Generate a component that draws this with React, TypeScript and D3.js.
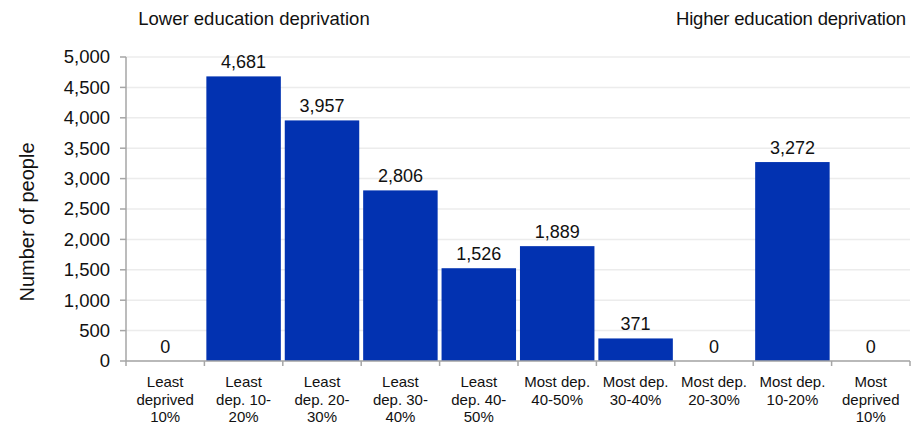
import React from "react";
import * as d3 from "d3";

const categories: string[][] = [
  ["Least", "deprived", "10%"],
  ["Least", "dep. 10-", "20%"],
  ["Least", "dep. 20-", "30%"],
  ["Least", "dep. 30-", "40%"],
  ["Least", "dep. 40-", "50%"],
  ["Most dep.", "40-50%"],
  ["Most dep.", "30-40%"],
  ["Most dep.", "20-30%"],
  ["Most dep.", "10-20%"],
  ["Most", "deprived", "10%"],
];
const values: number[] = [0, 4681, 3957, 2806, 1526, 1889, 371, 0, 3272, 0];
const yTicks: number[] = [0, 500, 1000, 1500, 2000, 2500, 3000, 3500, 4000, 4500, 5000];
const yTitle = "Number of people";
const leftNote = "Lower education deprivation";
const rightNote = "Higher education deprivation";

const W = 914;
const H = 427;
const M = { left: 126, right: 4, top: 57, bottom: 66 };
const FONT = "'Liberation Sans', Arial, sans-serif";

export default function App() {
  const x = d3
    .scaleBand<number>()
    .domain(values.map((_, i) => i))
    .range([M.left, W - M.right])
    .paddingInner(0.05)
    .paddingOuter(0.025);
  const y = d3.scaleLinear().domain([0, 5000]).range([H - M.bottom, M.top]);
  const fmt = d3.format(",");
  const step = x.step();
  const x0 = M.left;
  const y0 = y(0);

  return (
    <svg
      width={W}
      height={H}
      style={{ position: "absolute", left: 0, top: 0, fontFamily: FONT }}
    >
      <rect width={W} height={H} fill="#ffffff" />
      {yTicks.map((t) => (
        <line
          key={"g" + t}
          x1={x0}
          x2={W - M.right}
          y1={y(t)}
          y2={y(t)}
          stroke="#ececec"
          strokeWidth={1.5}
        />
      ))}
      {values.map((v, i) => (
        <rect
          key={"b" + i}
          x={x(i)!}
          y={y(v)}
          width={x.bandwidth()}
          height={y0 - y(v)}
          fill="#0232b1"
        />
      ))}
      {values.map((v, i) => (
        <text
          key={"v" + i}
          x={x(i)! + x.bandwidth() / 2}
          y={y(v) - 8}
          textAnchor="middle"
          fontSize={18}
          fill="#111"
        >
          {fmt(v)}
        </text>
      ))}
      <line x1={x0} x2={x0} y1={y(5000)} y2={y0} stroke="#a6a6a6" strokeWidth={1.5} />
      <line x1={x0} x2={W - M.right} y1={y0} y2={y0} stroke="#a6a6a6" strokeWidth={1.5} />
      {yTicks.map((t) => (
        <g key={"yt" + t}>
          <line x1={x0 - 6} x2={x0} y1={y(t)} y2={y(t)} stroke="#a6a6a6" strokeWidth={1.5} />
          <text
            x={x0 - 16}
            y={y(t)}
            dy="0.35em"
            textAnchor="end"
            fontSize={18.5}
            fill="#111"
          >
            {fmt(t)}
          </text>
        </g>
      ))}
      {d3.range(values.length + 1).map((i) => (
        <line
          key={"xt" + i}
          x1={x0 + i * step}
          x2={x0 + i * step}
          y1={y0}
          y2={y0 + 5}
          stroke="#a6a6a6"
          strokeWidth={1.5}
        />
      ))}
      {categories.map((lines, i) => (
        <text
          key={"c" + i}
          x={x(i)! + x.bandwidth() / 2}
          y={387}
          textAnchor="middle"
          fontSize={15}
          fill="#111"
        >
          {lines.map((l, j) => (
            <tspan key={j} x={x(i)! + x.bandwidth() / 2} dy={j === 0 ? 0 : 17.7}>
              {l}
            </tspan>
          ))}
        </text>
      ))}
      <text
        transform={`translate(34,222) rotate(-90)`}
        textAnchor="middle"
        fontSize={20}
        fill="#111"
      >
        {yTitle}
      </text>
      <text x={254} y={25} textAnchor="middle" fontSize={18.5} fill="#111">
        {leftNote}
      </text>
      <text x={791} y={25} textAnchor="middle" fontSize={18.5} fill="#111" letterSpacing={-0.2}>
        {rightNote}
      </text>
    </svg>
  );
}
